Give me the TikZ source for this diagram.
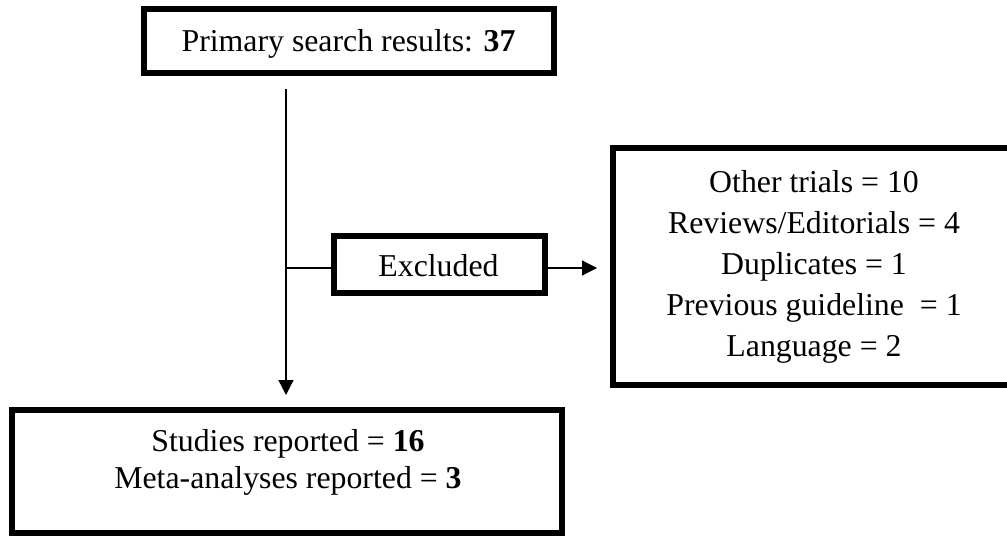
\documentclass[tikz,border=0pt]{standalone}
\usepackage{fontspec}
\setmainfont{Liberation Serif}
\usetikzlibrary{arrows.meta}
\begin{document}
\begin{tikzpicture}[x=1pt,y=-1pt,
  box/.style={draw=black, line width=6pt, inner sep=0pt, fill=white},
  txt/.style={anchor=base, inner sep=0pt, font=\fontsize{31.8}{41}\selectfont},
  conn/.style={draw=black, line width=1.3pt},
  arr/.style={conn, -{Triangle[length=15pt,width=15pt]}}]
\useasboundingbox (0,0) rectangle (1007,537);
\clip (0,0) rectangle (1007,537);
% boxes
\node[box, minimum width=410pt, minimum height=64pt] (top) at (349,41) {};
\node[box, minimum width=211pt, minimum height=57pt] (excl) at (439.5,265) {};
\node[box, minimum width=402pt, minimum height=237pt] (right) at (814,266.5) {};
\node[box, minimum width=550pt, minimum height=123pt] (bottom) at (287,471.5) {};
% texts
\node[txt] (toptext) at (348.5,52) {Primary search results: \textbf{37}};
\node[txt] (excltext) at (438.5,277) {Excluded};
\node[txt] (r1) at (814,192.5) {Other trials = 10};
\node[txt] (r2) at (814,233.5) {Reviews/Editorials = 4};
\node[txt] (r3) at (814,274.5) {Duplicates = 1};
\node[txt] (r4) at (814,315.5) {Previous guideline~ = 1};
\node[txt] (r5) at (814,356.5) {Language = 2};
\node[txt] (b1) at (288,451) {Studies reported = \textbf{16}};
\node[txt] (b2) at (288,488) {Meta-analyses reported = \textbf{3}};
% connectors
\coordinate (vstart) at (286,89);
\coordinate (branch) at (286,268);
\draw[arr, shorten >=12pt] (vstart) -- (vstart |- bottom.north);
\draw[conn] (branch) -- (branch -| excl.west);
\draw[arr, shorten >=13pt] (branch -| excl.east) -- (branch -| right.west);
\end{tikzpicture}
\end{document}
